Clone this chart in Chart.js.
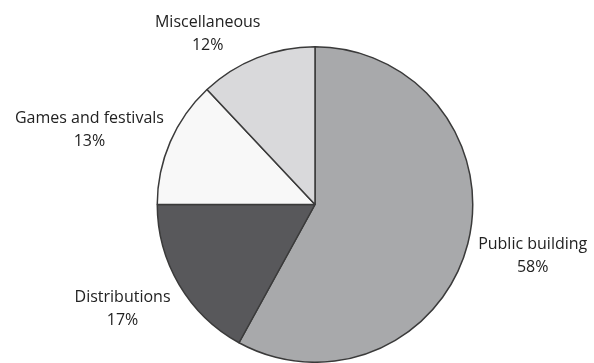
<!DOCTYPE html>
<html>
<head>
<meta charset="utf-8">
<script src="https://cdn.jsdelivr.net/npm/chart.js@4"></script>
<style>
  html, body { margin: 0; padding: 0; background: #fff; }
  #wrap { width: 594px; height: 363px; position: relative; }
</style>
</head>
<body>
<div id="wrap"><canvas id="pie"></canvas></div>
<script>
const categories = ['Public building', 'Distributions', 'Games and festivals', 'Miscellaneous'];
const shares = [58, 17, 13, 12];
const sliceColors = ['#a8a9ab', '#58585b', '#f8f8f8', '#d9d9db'];

// label placement, in radius units from the pie centre
const labelSpots = [
  [1.38, 0.325],
  [-1.22, 0.66],
  [-1.43, -0.47],
  [-0.68, -1.08]
];

const outsideLabels = {
  id: 'outsideLabels',
  afterDatasetsDraw(chart) {
    const ctx = chart.ctx;
    const arc = chart.getDatasetMeta(0).data[0];
    const cx = arc.x, cy = arc.y, r = arc.outerRadius;
    ctx.save();
    ctx.fillStyle = '#222';
    ctx.font = '500 16px "Open Sans", sans-serif';
    ctx.textAlign = 'center';
    ctx.textBaseline = 'middle';
    categories.forEach((name, i) => {
      const x = cx + labelSpots[i][0] * r;
      const y = cy + labelSpots[i][1] * r;
      ctx.fillText(name, x, y - 11.5);
      ctx.fillText(shares[i] + '%', x, y + 11.5);
    });
    ctx.restore();
  }
};

new Chart(document.getElementById('pie'), {
  type: 'pie',
  data: {
    labels: categories,
    datasets: [{
      data: shares,
      backgroundColor: sliceColors,
      borderColor: '#3a3a3a',
      borderWidth: 1.5
    }]
  },
  options: {
    responsive: true,
    maintainAspectRatio: false,
    animation: false,
    layout: { padding: { top: 46, left: 36, right: 0, bottom: 0 } },
    plugins: {
      legend: { display: false },
      tooltip: { enabled: false }
    }
  },
  plugins: [outsideLabels]
});
</script>
</body>
</html>
